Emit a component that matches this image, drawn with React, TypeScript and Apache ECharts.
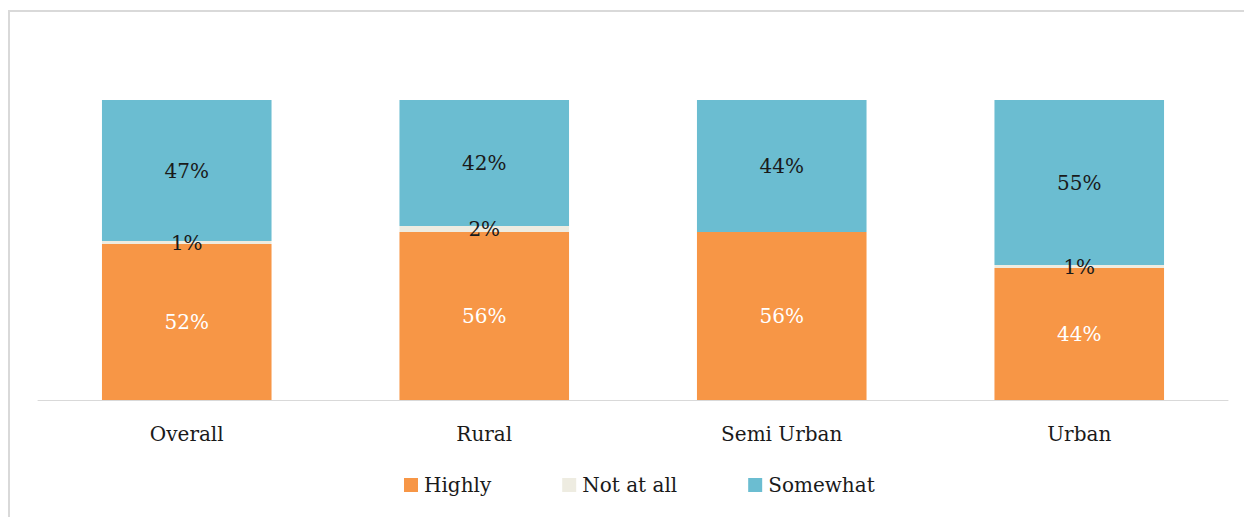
import React, { useEffect, useRef } from "react";
import * as echarts from "echarts";

const categories = ["Overall", "Rural", "Semi Urban", "Urban"];
const highly = [52, 56, 56, 44];
const notAtAll = [1, 2, 0, 1];
const somewhat = [47, 42, 44, 55];
const seriesNames = ["Highly", "Not at all", "Somewhat"];
const colors = ["#F79646", "#EEECE1", "#6BBDD1"];

const FONT = "DejaVu Serif";

export default function App() {
  const ref = useRef<HTMLDivElement>(null);
  useEffect(() => {
    if (!ref.current) return;
    const chart = echarts.init(ref.current, undefined, { renderer: "svg" });
    const values = [highly, notAtAll, somewhat];
    chart.setOption({
      animation: false,
      textStyle: { fontFamily: FONT },
      graphic: [
        {
          type: "rect",
          shape: { x: 9, y: 11, width: 1400, height: 700 },
          style: { fill: "none", stroke: "#d9d9d9", lineWidth: 2 },
          silent: true,
          z: -10,
        },
      ],
      grid: { left: 38, right: 16, top: 100, bottom: 117, containLabel: false },
      legend: {
        data: seriesNames,
        left: 399,
        top: 470,
        itemWidth: 14,
        itemHeight: 14,
        itemGap: 71,
        icon: "rect",
        textStyle: { fontFamily: FONT, fontSize: 20, color: "#1a1a1a", padding: [0, 0, 0, 1] },
      },
      xAxis: {
        type: "category",
        data: categories,
        axisLine: { lineStyle: { color: "#d9d9d9", width: 1 } },
        axisTick: { show: false },
        axisLabel: { fontFamily: FONT, fontSize: 20, color: "#1a1a1a", margin: 24 },
      },
      yAxis: {
        type: "value",
        min: 0,
        max: 100,
        show: false,
        splitLine: { show: false },
      },
      series: seriesNames.map((name, i) => ({
        name,
        type: "bar",
        stack: "total",
        barWidth: "57%",
        data: values[i],
        itemStyle: { color: colors[i] },
        label: {
          show: true,
          position: "inside",
          fontFamily: FONT,
          fontSize: 20,
          color: i === 0 ? "#ffffff" : "#1a1a1a",
          formatter: (p: any) => (p.value > 0 ? p.value + "%" : ""),
        },
      })),
    });
    return () => chart.dispose();
  }, []);
  return (
    <div
      ref={ref}
      style={{ position: "fixed", left: 0, top: 0, width: 1244, height: 517, background: "#fff" }}
    />
  );
}
